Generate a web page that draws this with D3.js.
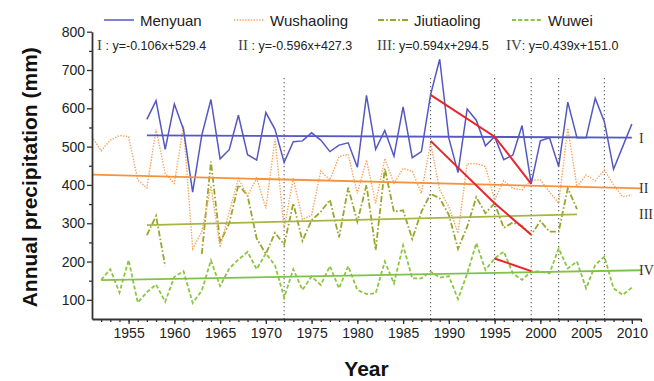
<!DOCTYPE html>
<html>
<head>
<meta charset="utf-8">
<script src="https://cdn.jsdelivr.net/npm/d3@7/dist/d3.min.js"></script>
<style>
	body {margin: 0; background: #fff;}
	svg {display: block;}
	text {font-family: "Liberation Sans", Arial, sans-serif;}
</style>
</head>
<body>
<svg id="chart" width="654" height="381"></svg>
<script>
'use strict';

// annual precipitation (mm), one value per year from the start year
var menyuanStart = 1957;
var menyuan = [571, 620, 493, 611, 545, 381, 530, 623, 468, 492,
	582, 479, 465, 589, 545, 459, 513, 515, 536, 517,
	487, 504, 510, 446, 634, 493, 542, 475, 604, 471,
	487, 635, 728, 522, 432, 598, 569, 502, 526, 466,
	478, 555, 403, 515, 523, 448, 616, 523, 523, 626,
	565, 441, 500, 559];

var wushaolingStart = 1951;
var wushaoling = [526, 489, 517, 529, 526, 413, 392, 545, 430, 404,
	554, 233, 278, 397, 237, 330, 417, 372, 417, 339,
	520, 287, 417, 310, 321, 436, 413, 474, 480, 378,
	465, 352, 469, 404, 443, 436, 378, 510, 387, 343,
	274, 455, 456, 448, 361, 411, 391, 387, 413, 413,
	382, 352, 548, 395, 426, 411, 439, 400, 369, 374];

var jiutiaolingStart = 1957;
var jiutiaoling = [269, 319, 188, null, null, null, 220, 461, 250, 300,
	400, 372, 260, 220, 275, 244, 352, 254, 308, 330,
	361, 263, 393, 304, 400, 230, 443, 330, 334, 259,
	330, 377, 365, 322, 233, 291, 368, 326, 352, 288,
	302, 293, 270, 306, 278, 278, 391, 337];

var wuweiStart = 1952;
var wuwei = [152, 180, 119, 204, 93, 120, 140, 95, 160, 175,
	92, 124, 203, 136, 182, 205, 225, 180, 221, 190,
	106, 180, 126, 161, 139, 188, 130, 188, 126, 115,
	117, 200, 143, 242, 156, 156, 174, 158, 162, 102,
	168, 248, 178, 208, 226, 169, 152, 174, 174, 169,
	234, 182, 200, 130, 191, 213, 130, 113, 132];

// linear trends: [start year, value, end year, value]
var trendMenyuan = [1957, 529.3, 2010, 523.7];
var trendWushaoling = [1951, 426.7, 2011, 391.0];
var trendJiutiaoling = [1957, 295.1, 2004, 323.0];
var trendWuwei = [1952, 151.4, 2011, 177.3];

var trendLabels = ['I', 'II', 'III', 'IV'];
var equations = ['y=-0.106x+529.4', 'y=-0.596x+427.3', 'y=0.594x+294.5', 'y=0.439x+151.0'];
var seriesNames = ['Menyuan', 'Wushaoling', 'Jiutiaoling', 'Wuwei'];

// red decline segments
var declines = [
	[[1988, 635], [1995, 526], [1999, 403]],
	[[1988, 515], [1995, 352], [1999, 270]],
	[[1995, 208], [1999, 175]]];

var breakYears = [1972, 1988, 1995, 1999, 2002, 2007];

var yMajor = [100, 200, 300, 400, 500, 600, 700, 800];
var yMinor = [150, 250, 350, 450, 550, 650, 750];
var xMajor = [1955, 1960, 1965, 1970, 1975, 1980, 1985, 1990, 1995, 2000, 2005, 2010];
var xMinor = d3.range(1952, 2012);

var styles = [
	{color: '#5558c2', trend: '#5558c2', dash: null, width: 1.5},
	{color: '#f6a35e', trend: '#f7923a', dash: '1.4,1.4', width: 1.4},
	{color: '#9aa52c', trend: '#a8b443', dash: '6,2.2,1.6,2.2', width: 1.8},
	{color: '#8cc641', trend: '#7fc24a', dash: '4,2.2', width: 1.8}];

var svg = d3.select('#chart');
var x = d3.scaleLinear().domain([1951, 2011]).range([92, 641]);
var y = d3.scaleLinear().domain([50, 800]).range([319, 31.7]);

function toPoints(start, values) {
	return values.map(function(v, i) {return [start + i, v];});}

var line = d3.line()
	.defined(function(d) {return d[1] !== null;})
	.x(function(d) {return x(d[0]);})
	.y(function(d) {return y(d[1]);});

// break-point guides
svg.append('g').selectAll('line').data(breakYears).enter().append('line')
	.attr('x1', function(d) {return x(d);})
	.attr('x2', function(d) {return x(d);})
	.attr('y1', 78)
	.attr('y2', y(50))
	.attr('stroke', '#666')
	.attr('stroke-width', 1.2)
	.attr('stroke-dasharray', '1.2,2.8');

var series = [
	toPoints(menyuanStart, menyuan),
	toPoints(wushaolingStart, wushaoling),
	toPoints(jiutiaolingStart, jiutiaoling),
	toPoints(wuweiStart, wuwei)];
var trends = [trendMenyuan, trendWushaoling, trendJiutiaoling, trendWuwei];

// draw lower series first so Menyuan sits on top
[3, 2, 1, 0].forEach(function(k) {
	svg.append('path')
		.datum(series[k])
		.attr('d', line)
		.attr('fill', 'none')
		.attr('stroke', styles[k].color)
		.attr('stroke-width', styles[k].width)
		.attr('stroke-dasharray', styles[k].dash)
		.attr('stroke-linejoin', 'miter');});

trends.forEach(function(t, k) {
	svg.append('path')
		.datum([[t[0], t[1]], [t[2], t[3]]])
		.attr('d', line)
		.attr('stroke', styles[k].trend)
		.attr('stroke-width', 1.8);
	svg.append('text')
		.attr('x', 639)
		.attr('y', y(t[3]) + 5)
		.style('font-family', '"Liberation Serif", "Times New Roman", serif')
		.style('font-size', '14px')
		.attr('fill', '#333')
		.text(trendLabels[k]);});

svg.append('g').selectAll('path').data(declines).enter().append('path')
	.attr('d', line)
	.attr('fill', 'none')
	.attr('stroke', '#e8262b')
	.attr('stroke-width', 2);

// axes
var axisColor = '#333';
var gy = svg.append('g').attr('transform', 'translate(' + x(1951) + ',0)');
gy.call(d3.axisLeft(y).tickValues(yMajor).tickSize(5).tickSizeOuter(0).tickFormat(d3.format('d')));
gy.append('g').call(d3.axisLeft(y).tickValues(yMinor).tickSize(3).tickFormat(''))
	.select('.domain').remove();

var gx = svg.append('g').attr('transform', 'translate(0,' + y(50) + ')');
gx.call(d3.axisBottom(x).tickValues(xMajor).tickSize(5).tickSizeOuter(0).tickFormat(d3.format('d')));
gx.append('g').call(d3.axisBottom(x).tickValues(xMinor).tickSize(3).tickFormat(''))
	.select('.domain').remove();

svg.selectAll('.domain').attr('stroke', axisColor).attr('stroke-width', 1.8);
svg.selectAll('.tick line').attr('stroke', axisColor).attr('stroke-width', 1.3);
svg.selectAll('.tick text')
	.style('font-family', '"Liberation Sans", Arial, sans-serif')
	.style('font-size', '14px')
	.attr('fill', '#222');
gy.selectAll('.tick text').attr('x', -7);
gx.selectAll('.tick text').attr('y', 9);

svg.append('text')
	.attr('transform', 'translate(37,' + y(420) + ') rotate(-90)')
	.attr('text-anchor', 'middle')
	.style('font-size', '21px')
	.style('font-weight', 'bold')
	.attr('fill', '#111')
	.text('Annual precipitation (mm)');

svg.append('text')
	.attr('x', (x(1951) + x(2011)) / 2)
	.attr('y', 376)
	.attr('text-anchor', 'middle')
	.style('font-size', '21px')
	.style('font-weight', 'bold')
	.attr('fill', '#111')
	.text('Year');

// legend
var legendX = [104, 234, 378, 512];
var legend = svg.append('g').selectAll('g').data(seriesNames).enter().append('g')
	.attr('transform', function(d, i) {return 'translate(' + legendX[i] + ',20)';});
legend.append('line')
	.attr('x1', 0).attr('x2', 30).attr('y1', 0).attr('y2', 0)
	.attr('stroke', function(d, i) {return styles[i].color;})
	.attr('stroke-width', function(d, i) {return styles[i].width;})
	.attr('stroke-dasharray', function(d, i) {return styles[i].dash;});
legend.append('text')
	.attr('x', 36).attr('y', 5.5)
	.style('font-size', '15px')
	.attr('fill', '#222')
	.text(function(d) {return d;});

// trend equations
var eqX = [97, 238, 377, 506];
var eq = svg.append('g').selectAll('text').data(equations).enter().append('text')
	.attr('x', function(d, i) {return eqX[i];})
	.attr('y', 50)
	.style('font-size', '12.5px')
	.attr('fill', '#222');
eq.append('tspan')
	.style('font-family', '"Liberation Serif", "Times New Roman", serif')
	.style('font-size', '15px')
	.attr('fill', '#444')
	.text(function(d, i) {return trendLabels[i];});
eq.append('tspan')
	.text(function(d, i) {return (i < 2 ? ' : ' : ': ') + d;});
</script>
</body>
</html>
